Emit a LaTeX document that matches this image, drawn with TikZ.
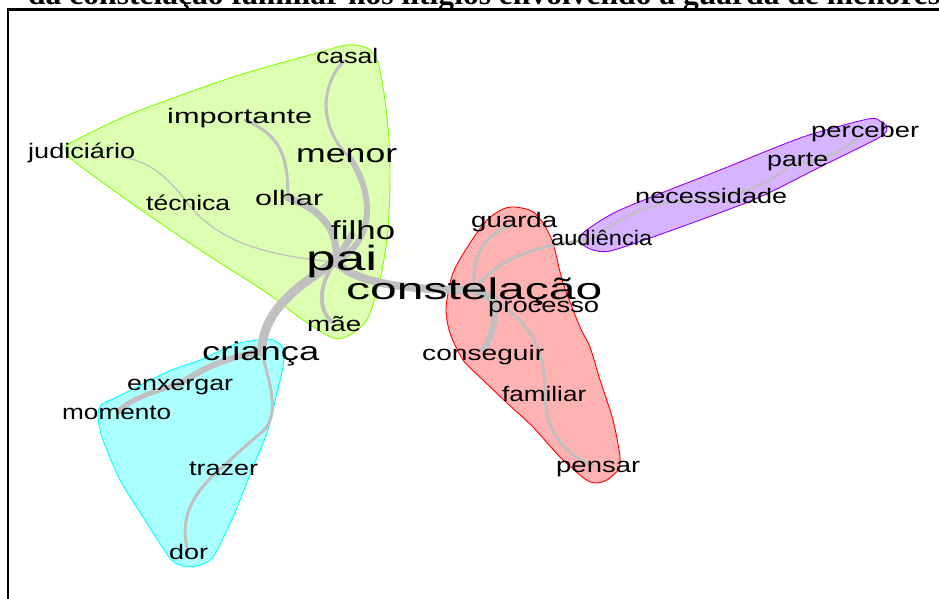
\documentclass[tikz,border=0pt]{standalone}
\usepackage{fontspec}
\setmainfont{Liberation Sans}
\newfontfamily\titlefont{Liberation Serif}
\usepackage{graphicx}
\newcommand\fitw[2]{\resizebox{#1pt}{\height}{#2}}
\definecolor{greenfill}{RGB}{221,255,178}
\definecolor{greenline}{RGB}{127,255,0}
\definecolor{cyanfill}{RGB}{170,255,255}
\definecolor{cyanline}{RGB}{0,255,255}
\definecolor{redfill}{RGB}{255,178,178}
\definecolor{redline}{RGB}{255,0,0}
\definecolor{purplefill}{RGB}{214,180,255}
\definecolor{purpleline}{RGB}{150,0,255}
\definecolor{edgegray}{RGB}{192,192,192}
\pgfdeclarelayer{hulls}
\pgfdeclarelayer{edges}
\pgfsetlayers{hulls,edges,main}
\begin{document}
\begin{tikzpicture}[x=1pt,y=-1pt,
  word/.style={inner sep=0pt, anchor=base west, text=black},
  ws/.style={word, font=\fontsize{21}{21}\selectfont},
  wm/.style={word, font=\fontsize{26}{26}\selectfont},
  wpai/.style={word, font=\fontsize{35}{35}\selectfont},
  wcon/.style={word, font=\fontsize{30}{30}\selectfont},
  hull/.style={line width=0.9pt},
  link/.style={draw=edgegray, line cap=round, line join=round},
]
\useasboundingbox (0,0) rectangle (939,599);
\clip (0,0) rectangle (939,599);

% frame and cut title
\draw[line width=2.3pt] (8,599) -- (8,9.5) -- (945,9.5);
\node[inner sep=0pt, anchor=base west, font=\titlefont\bfseries\fontsize{31}{31}\selectfont] (title) at (28,5)
  {\fitw{912}{da constelação familiar nos litígios envolvendo a guarda de menores}};

% vertex coordinates
\coordinate (v-casal) at (345,60);
\coordinate (v-menor) at (350,158);
\coordinate (v-importante) at (245,120);
\coordinate (v-olhar) at (288,198);
\coordinate (v-judiciario) at (120,157);
\coordinate (v-tecnica) at (185,200);
\coordinate (v-filho) at (352,235);
\coordinate (v-pai) at (335,262);
\coordinate (v-constelacao) at (474,290);
\coordinate (v-mae) at (332,322);
\coordinate (v-crianca) at (262,352);
\coordinate (v-enxergar) at (180,384);
\coordinate (v-momento) at (118,412);
\coordinate (v-trazer) at (225,465);
\coordinate (v-dor) at (188,552);
\coordinate (v-guarda) at (510,225);
\coordinate (v-audiencia) at (590,240);
\coordinate (v-processo) at (495,300);
\coordinate (v-conseguir) at (483,350);
\coordinate (v-familiar) at (545,395);
\coordinate (v-pensar) at (593,466);
\coordinate (v-necessidade) at (690,200);
\coordinate (v-parte) at (790,165);
\coordinate (v-perceber) at (860,135);

% hulls
\begin{pgfonlayer}{hulls}
\filldraw[hull, fill=greenfill, draw=greenline] plot[smooth cycle, tension=0.45] coordinates {
 (347,45) (367,48) (378,62) (385,100) (389,140) (390,180) (388,230) (381,275) (368,318) (350,335) (333,338) (303,320) (267,293) (200,250) (137,207) (75,162) (65,148) (80,138) (133,113) (233,77) (317,53)};
\filldraw[hull, fill=cyanfill, draw=cyanline] plot[smooth cycle, tension=0.45] coordinates {
 (257,340) (273,340) (283,348) (283,367) (277,393) (267,433) (253,467) (233,517) (213,557) (197,566) (183,566) (170,558) (143,517) (120,480) (103,440) (98,418) (101,405) (117,397) (167,372) (200,360) (233,345)};
\filldraw[hull, fill=redfill, draw=redline] plot[smooth cycle, tension=0.45] coordinates {
 (515,207) (532,211) (543,223) (553,243) (563,283) (580,327) (590,347) (600,380) (613,420) (620,457) (618,470) (607,480) (596,483) (585,479) (560,457) (533,427) (507,403) (483,380) (463,360) (450,333) (446,308) (453,273) (470,243) (487,220) (503,209)};
\filldraw[hull, fill=purplefill, draw=purpleline] plot[smooth cycle, tension=0.45] coordinates {
 (583,233) (581,243) (593,250) (610,251) (653,237) (753,200) (820,167) (880,137) (887,127) (880,121) (868,119) (803,137) (720,170) (620,210)};
\end{pgfonlayer}

% edges
\begin{pgfonlayer}{edges}
\draw[link, line width=3pt] (v-casal) .. controls (322,82) and (316,125) .. (v-menor);
\draw[link, line width=6pt] (v-menor) .. controls (372,190) and (378,240) .. (v-pai);
\draw[link, line width=3pt] (v-importante) .. controls (280,135) and (288,155) .. (v-olhar);
\draw[link, line width=7pt] (v-olhar) .. controls (325,210) and (340,235) .. (v-pai);
\draw[link, line width=1.3pt] (v-judiciario) .. controls (150,160) and (170,180) .. (v-tecnica);
\draw[link, line width=1.3pt] (v-tecnica) .. controls (215,240) and (260,255) .. (v-pai);
\draw[link, line width=7pt] (v-filho) -- (v-pai);
\draw[link, line width=9pt] (v-pai) .. controls (290,290) and (262,315) .. (v-crianca);
\draw[link, line width=4pt] (v-pai) .. controls (318,285) and (318,310) .. (v-mae);
\draw[link, line width=8pt] (v-pai) .. controls (355,280) and (390,290) .. (v-constelacao);
\draw[link, line width=8pt] (v-constelacao) -- (v-processo);
\draw[link, line width=6pt] (v-processo) .. controls (496,320) and (492,338) .. (v-conseguir);
\draw[link, line width=3pt] (v-guarda) .. controls (480,238) and (472,260) .. (v-constelacao);
\draw[link, line width=3pt] (v-audiencia) .. controls (520,246) and (490,268) .. (v-constelacao);
\draw[link, line width=3pt] (v-processo) .. controls (530,325) and (545,345) .. (v-familiar);
\draw[link, line width=3pt] (v-familiar) .. controls (546,440) and (570,455) .. (v-pensar);
\draw[link, line width=6pt] (v-crianca) .. controls (235,355) and (205,366) .. (v-enxergar);
\draw[link, line width=5pt] (v-enxergar) .. controls (150,392) and (125,402) .. (v-momento);
\draw[link, line width=3pt] (v-crianca) .. controls (268,380) and (282,415) .. (262,432) .. controls (250,442) and (235,455) .. (v-trazer);
\draw[link, line width=3pt] (v-trazer) .. controls (195,490) and (178,515) .. (v-dor);
\draw[link, line width=2pt] (v-audiencia) .. controls (612,225) and (640,203) .. (v-necessidade);
\draw[link, line width=2pt] (v-necessidade) .. controls (745,197) and (775,180) .. (v-parte);
\draw[link, line width=2pt] (v-parte) .. controls (825,160) and (850,148) .. (v-perceber);
\end{pgfonlayer}

% words
\node[ws] (casal) at (316,64) {\fitw{62}{casal}};
\node[ws] (importante) at (167,124) {\fitw{145}{importante}};
\node[ws] (judiciario) at (28,158) {\fitw{107}{judiciário}};
\node[wm] (menor) at (296,162) {\fitw{101}{menor}};
\node[ws] (olhar) at (255,205) {\fitw{68}{olhar}};
\node[ws] (tecnica) at (146,210) {\fitw{84}{técnica}};
\node[wm] (filho) at (331,239) {\fitw{64}{filho}};
\node[wpai] (pai) at (306,270) {\fitw{71}{pai}};
\node[wcon] (constelacao) at (346,299) {\fitw{256}{constelação}};
\node[ws] (mae) at (307,331) {\fitw{54}{mãe}};
\node[wm] (crianca) at (202,360) {\fitw{117}{criança}};
\node[ws] (enxergar) at (127,390) {\fitw{106}{enxergar}};
\node[ws] (momento) at (62,419) {\fitw{109}{momento}};
\node[ws] (trazer) at (189,475) {\fitw{69}{trazer}};
\node[ws] (dor) at (169,559) {\fitw{39}{dor}};
\node[ws] (guarda) at (471,227) {\fitw{86}{guarda}};
\node[ws] (audiencia) at (551,245) {\fitw{101}{audiência}};
\node[ws] (processo) at (488,312) {\fitw{111}{processo}};
\node[ws] (conseguir) at (422,360) {\fitw{122}{conseguir}};
\node[ws] (familiar) at (502,401) {\fitw{84}{familiar}};
\node[ws] (pensar) at (556,472) {\fitw{84}{pensar}};
\node[ws] (perceber) at (811,138) {\fitw{108}{perceber}};
\node[ws] (parte) at (767,166) {\fitw{61}{parte}};
\node[ws] (necessidade) at (635,203) {\fitw{152}{necessidade}};
\end{tikzpicture}
\end{document}
